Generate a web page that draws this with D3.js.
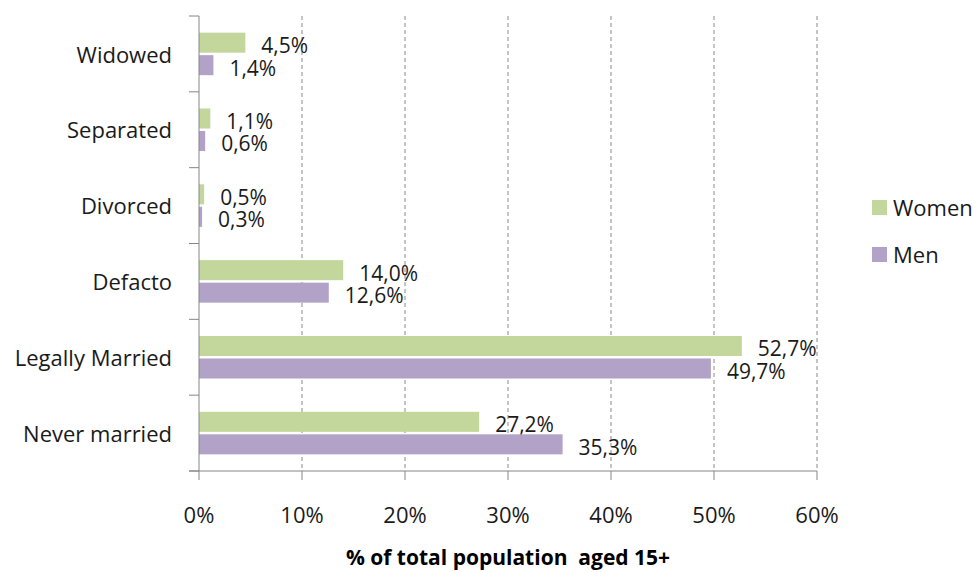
<!DOCTYPE html>
<html>
<head>
<meta charset="utf-8">
<script src="https://cdn.jsdelivr.net/npm/d3@7"></script>
<style>
  body { margin: 0; background: #fff; }
  svg text { font-family: "Open Sans", sans-serif; fill: #1a1a1a; }
</style>
</head>
<body>
<svg id="drawing_region"></svg>
<script>
// categories from top to bottom
const categories = ["Widowed", "Separated", "Divorced", "Defacto", "Legally Married", "Never married"];
const women = [4.5, 1.1, 0.5, 14.0, 52.7, 27.2];
const men = [1.4, 0.6, 0.3, 12.6, 49.7, 35.3];
const seriesNames = ["Women", "Men"];
const xTicks = [0, 10, 20, 30, 40, 50, 60];
const axisTitle = "% of total population\u00a0 aged 15+";

const colors = { Women: "#c3d69b", Men: "#b3a2c7" };

const fmt = v => v.toFixed(1).replace(".", ",") + "%";

const data = categories.map((c, i) => ({ cat: c, Women: women[i], Men: men[i] }));

const width = 978, height = 572;
const margin = { top: 16, left: 199, right: 161, bottom: 101 };
const fs = "22px";

const svg = d3.select("#drawing_region")
    .attr("width", width)
    .attr("height", height);

const x = d3.scaleLinear()
    .domain([0, 60])
    .range([margin.left, width - margin.right]);

const y = d3.scaleBand()
    .domain(categories)
    .range([margin.top, height - margin.bottom]);

const inner = d3.scaleBand()
    .domain(seriesNames)
    .range([0, y.bandwidth()])
    .paddingOuter(0.74)
    .paddingInner(0.11);

// gridlines
svg.append("g")
    .selectAll("line")
    .data(xTicks.slice(1))
    .join("line")
    .attr("x1", d => x(d)).attr("x2", d => x(d))
    .attr("y1", margin.top).attr("y2", height - margin.bottom)
    .attr("stroke", "#8a8a8a")
    .attr("stroke-width", 1)
    .attr("stroke-dasharray", "4,3");

// bars
const groups = svg.append("g")
    .selectAll("g")
    .data(data)
    .join("g")
    .attr("transform", d => `translate(0,${y(d.cat)})`);

seriesNames.forEach(s => {
  groups.append("rect")
      .attr("x", x(0))
      .attr("y", inner(s))
      .attr("width", d => x(d[s]) - x(0))
      .attr("height", inner.bandwidth())
      .attr("fill", colors[s]);

  groups.append("text")
      .attr("x", d => x(d[s]) + 16)
      .attr("y", inner(s) + inner.bandwidth() / 2 + 3)
      .attr("dy", "0.35em")
      .style("font-size", "21px")
      .text(d => fmt(d[s]));
});

// y axis
const yAxis = svg.append("g")
    .attr("transform", `translate(${margin.left},0)`);
yAxis.append("line")
    .attr("x1", 0).attr("x2", 0)
    .attr("y1", margin.top).attr("y2", height - margin.bottom)
    .attr("stroke", "#868686");
yAxis.selectAll(".tk")
    .data(d3.range(categories.length + 1))
    .join("line")
    .attr("x1", -10).attr("x2", 0)
    .attr("y1", i => margin.top + i * y.step())
    .attr("y2", i => margin.top + i * y.step())
    .attr("stroke", "#868686");
yAxis.selectAll("text")
    .data(categories)
    .join("text")
    .attr("x", -27)
    .attr("y", d => y(d) + y.bandwidth() / 2 + 1)
    .attr("dy", "0.35em")
    .attr("text-anchor", "end")
    .style("font-size", fs)
    .text(d => d);

// x axis
const xAxis = svg.append("g")
    .attr("transform", `translate(0,${height - margin.bottom})`);
xAxis.append("line")
    .attr("x1", margin.left - 10).attr("x2", x(60))
    .attr("stroke", "#868686");
xAxis.selectAll(".tk")
    .data(xTicks)
    .join("line")
    .attr("x1", d => x(d)).attr("x2", d => x(d))
    .attr("y1", 0).attr("y2", 9)
    .attr("stroke", "#868686");
xAxis.selectAll("text")
    .data(xTicks)
    .join("text")
    .attr("x", d => x(d))
    .attr("y", 44)
    .attr("dy", "0.35em")
    .attr("text-anchor", "middle")
    .style("font-size", fs)
    .text(d => d + "%");

svg.append("text")
    .attr("x", 508)
    .attr("y", 565)
    .attr("text-anchor", "middle")
    .style("font-size", "21px")
    .style("font-weight", "bold")
    .style("fill", "#000")
    .text(axisTitle);

// legend
const legend = svg.append("g")
    .selectAll("g")
    .data(seriesNames)
    .join("g")
    .attr("transform", (d, i) => `translate(872,${200 + i * 47})`);
legend.append("rect")
    .attr("width", 15).attr("height", 15)
    .attr("fill", d => colors[d]);
legend.append("text")
    .attr("x", 21)
    .attr("y", 8)
    .attr("dy", "0.35em")
    .style("font-size", fs)
    .text(d => d);
</script>
</body>
</html>
